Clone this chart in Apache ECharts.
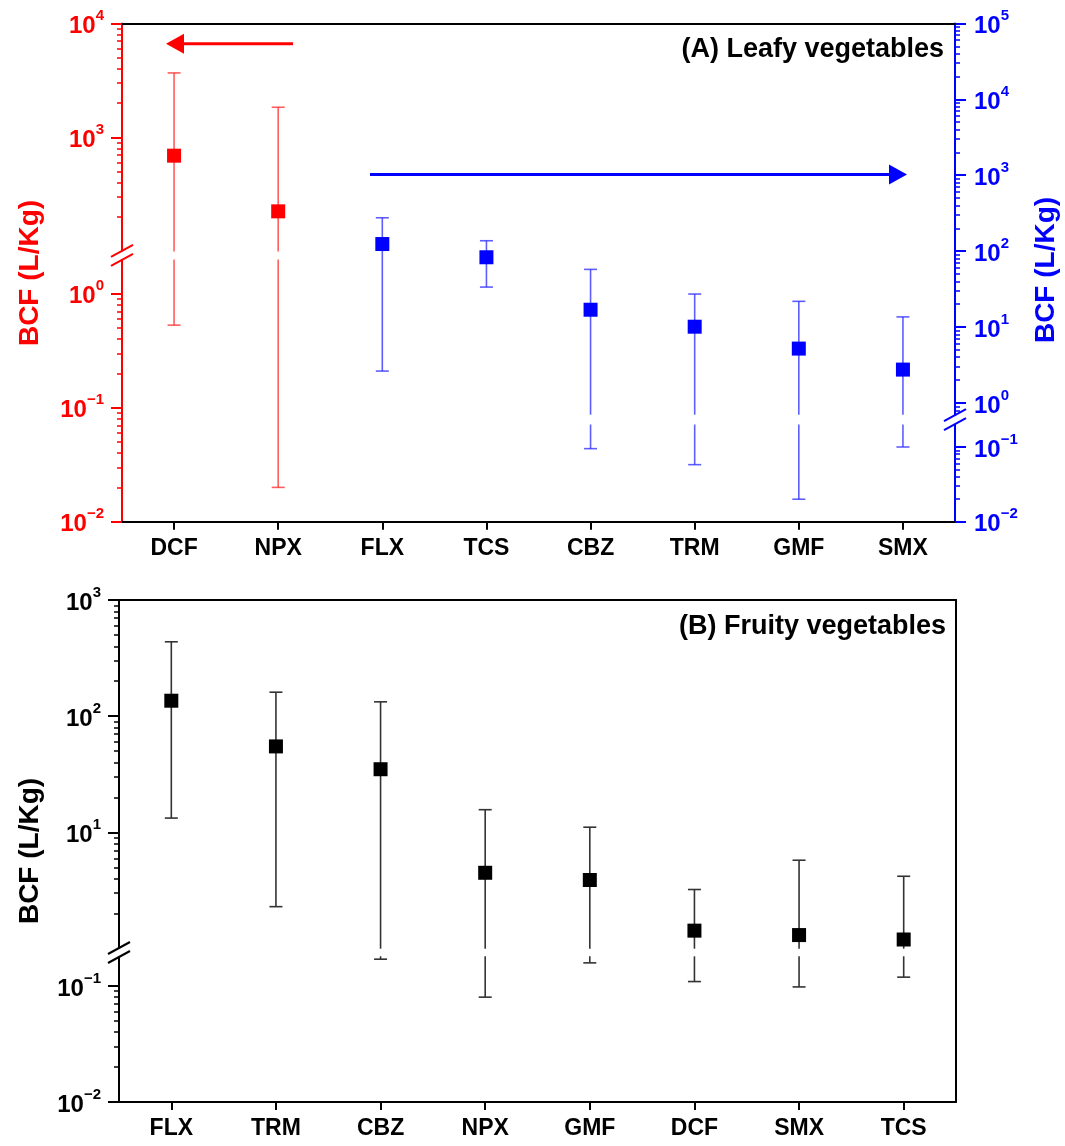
<!DOCTYPE html>
<html><head><meta charset="utf-8">
<script src="https://cdn.jsdelivr.net/npm/echarts@6/dist/echarts.min.js"></script>
<style>html,body{margin:0;padding:0;background:#fff}#c{width:1065px;height:1146px}</style>
</head><body><div id="c"></div>
<script>
// ---------- DATA ----------
const leafyCats = ['DCF','NPX','FLX','TCS','CBZ','TRM','GMF','SMX'];
const leafyAxis = ['left','left','right','right','right','right','right','right'];
const leafyMean = [692, 225, 124, 83, 16.9, 10.1, 5.2, 2.75];
const leafyLow  = [0.53, 0.02, 2.63, 33.6, 0.095, 0.058, 0.02, 0.1];
const leafyHigh = [3680, 1840, 275, 137, 57.5, 27.2, 21.8, 13.6];

const fruityCats = ['FLX','TRM','CBZ','NPX','GMF','DCF','SMX','TCS'];
const fruityMean = [136, 55, 35, 4.5, 3.9, 1.43, 1.31, 1.2];
const fruityLow  = [13.3, 2.3, 0.17, 0.08, 0.158, 0.109, 0.098, 0.119];
const fruityHigh = [437, 161, 133, 15.7, 11.1, 3.23, 5.77, 4.2];

// broken log axes: [upper segment], [lower segment]
const leftSegA  = [[100, 10000], [0.01, 2]];
const rightSegA = [[0.7, 100000], [0.01, 0.2]];
const segB      = [[1, 1000], [0.01, 0.18]];

const titleA = '(A) Leafy vegetables';
const titleB = '(B) Fruity vegetables';
const yName = 'BCF (L/Kg)';

// ---------- STYLE / LAYOUT ----------
const FONT = '"Liberation Sans", Arial, Helvetica, sans-serif';
const RED = '#ff0000', BLUE = '#0000ff', BLACK = '#000000';
const RED_E = 'rgba(255,40,40,0.75)', BLUE_E = 'rgba(40,40,255,0.75)', BLACK_E = '#333333';

const A = {left:122, width:833, top:23.4, bottom:521.7,
  LU:{top:23.4, bottom:251.5}, LL:{top:259.4, bottom:521.7},
  RU:{top:23.4, bottom:414.7}, RL:{top:424.5, bottom:521.7}};
const B = {left:119, width:837, top:600, bottom:1101.9,
  U:{top:600, bottom:948.7}, L:{top:956.3, bottom:1101.9}};

function grid(left, width, seg){
  return {left:left, width:width, top:seg.top, height:seg.bottom-seg.top, outerBoundsMode:'none', containLabel:false};
}

function ticksFor(min, max, breakAt){
  const major=[], minor=[];
  for (let e=-3; e<=6; e++){
    for (let k=1; k<10; k++){
      const v = +(k*Math.pow(10,e)).toPrecision(6);
      if (v < min*(1-1e-9) || v > max*(1+1e-9)) continue;
      if (breakAt==='min' && Math.abs(v-min)/min < 1e-6) continue;
      if (breakAt==='max' && Math.abs(v-max)/max < 1e-6) continue;
      (k===1 ? major : minor).push(v);
    }
  }
  return {major, minor};
}

function powLabel(v){
  const e = Math.round(Math.log10(v));
  return '{b|10}{s|' + (e<0 ? '\u2212'+(-e) : e) + '}';
}

function yPair(gridIndex, seg, breakAt, position, color, margin){
  const t = ticksFor(seg[0], seg[1], breakAt);
  return [{
    type:'log', logBase:10, gridIndex, min:seg[0], max:seg[1], position,
    axisLine:{show:true, onZero:false, lineStyle:{color, width:2}},
    axisTick:{show:true, inside:false, length:11, lineStyle:{color, width:2}, customValues:t.major},
    axisLabel:{show:true, customValues:t.major, margin, formatter:powLabel,
      rich:{
        b:{fontSize:24, fontWeight:'bold', fontFamily:FONT, color, lineHeight:30, verticalAlign:'bottom'},
        s:{fontSize:15, fontWeight:'bold', fontFamily:FONT, color, lineHeight:15, verticalAlign:'top'}
      }},
    splitLine:{show:false}, minorTick:{show:false}, minorSplitLine:{show:false}
  },{
    type:'log', logBase:10, gridIndex, min:seg[0], max:seg[1], position,
    axisLine:{show:false},
    axisTick:{show:true, inside:false, length:5, lineStyle:{color, width:1.5}, customValues:t.minor},
    axisLabel:{show:false}, splitLine:{show:false}
  }];
}

function xAxis(gridIndex, cats, mode){
  const base = {type:'category', gridIndex, data:cats, boundaryGap:true};
  if (mode==='hidden') return Object.assign(base, {show:false});
  if (mode==='top') return Object.assign(base, {position:'top',
    axisLine:{show:true, onZero:false, lineStyle:{color:BLACK, width:2}},
    axisTick:{show:false}, axisLabel:{show:false}, splitLine:{show:false}});
  return Object.assign(base, {position:'bottom',
    axisLine:{show:true, onZero:false, lineStyle:{color:BLACK, width:2}},
    axisTick:{show:true, inside:false, alignWithLabel:true, length:8, lineStyle:{color:BLACK, width:2}},
    axisLabel:{show:true, margin:15, fontSize:23, fontWeight:'bold', fontFamily:FONT, color:BLACK, interval:0},
    splitLine:{show:false}});
}

function errSeries(xi, yi, seg, color, items){
  return {
    type:'custom', xAxisIndex:xi, yAxisIndex:yi, z:2, silent:true,
    encode:{x:0, y:[1,2]},
    data: items.map(d => [d.i, d.lo, d.hi]),
    renderItem: function(params, api){
      const x = api.value(0), lo = api.value(1), hi = api.value(2);
      const a = Math.max(lo, seg[0]), b = Math.min(hi, seg[1]);
      if (a > b) return null;
      const p1 = api.coord([x, a]), p2 = api.coord([x, b]);
      const st = {stroke:color, lineWidth:1.6};
      const ch = [{type:'line', shape:{x1:p1[0], y1:p1[1], x2:p2[0], y2:p2[1]}, style:st}];
      const cw = 6.5;
      if (lo >= seg[0]) ch.push({type:'line', shape:{x1:p1[0]-cw, y1:p1[1], x2:p1[0]+cw, y2:p1[1]}, style:st});
      if (hi <= seg[1]) ch.push({type:'line', shape:{x1:p2[0]-cw, y1:p2[1], x2:p2[0]+cw, y2:p2[1]}, style:st});
      return {type:'group', children:ch};
    }
  };
}

function pointSeries(xi, yi, seg, color, items){
  return {
    type:'scatter', xAxisIndex:xi, yAxisIndex:yi, z:3, silent:true,
    symbol:'rect', symbolSize:14, itemStyle:{color, opacity:1},
    data: items.filter(d => d.m >= seg[0] && d.m <= seg[1]).map(d => [d.i, d.m])
  };
}

const leftItems = [], rightItems = [];
leafyCats.forEach((c,i) => {
  const d = {i, m:leafyMean[i], lo:leafyLow[i], hi:leafyHigh[i]};
  (leafyAxis[i]==='left' ? leftItems : rightItems).push(d);
});
const fruityItems = fruityCats.map((c,i) => ({i, m:fruityMean[i], lo:fruityLow[i], hi:fruityHigh[i]}));

// ---------- break marks & annotations ----------
function breakMark(cx, cy, color){
  const els = [{type:'rect', shape:{x:cx-8, y:cy-4, width:16, height:8}, style:{fill:'#fff'}, z:50}];
  [-4.5, 4.5].forEach(dy => {
    els.push({type:'line', shape:{x1:cx-11, y1:cy+dy+6, x2:cx+11, y2:cy+dy-6},
      style:{stroke:color, lineWidth:2}, z:51});
  });
  return els;
}
function arrow(x1, x2, y, color){
  const dir = x2 > x1 ? 1 : -1, hl = 18, hw = 10;
  return [
    {type:'line', shape:{x1:x1, y1:y, x2:x2 - dir*hl*0.6, y2:y}, style:{stroke:color, lineWidth:3}, z:40},
    {type:'polygon', shape:{points:[[x2,y],[x2-dir*hl,y-hw],[x2-dir*hl,y+hw]]}, style:{fill:color}, z:40}
  ];
}
function vText(x, y, text, color){
  return {type:'text', x, y, rotation:Math.PI/2, z:60,
    style:{text, fill:color, font:'bold 28px ' + FONT, align:'center', verticalAlign:'middle'}};
}
function hText(x, y, text){
  return {type:'text', x, y, z:60,
    style:{text, fill:BLACK, font:'bold 27px ' + FONT, align:'right', verticalAlign:'middle'}};
}

const graphics = [].concat(
  breakMark(A.left, (A.LU.bottom + A.LL.top)/2, RED),
  breakMark(A.left + A.width, (A.RU.bottom + A.RL.top)/2, BLUE),
  breakMark(B.left, (B.U.bottom + B.L.top)/2, BLACK),
  arrow(293, 166, 43.7, RED),
  arrow(370, 907, 174.6, BLUE),
  [vText(30, 273, yName, RED), vText(1046, 270, yName, BLUE), vText(30, 851, yName, BLACK),
   hText(944, 50, titleA), hText(946, 627, titleB)]
);

const option = {
  animation:false,
  backgroundColor:'#fff',
  grid:[
    grid(A.left, A.width, A.LU), grid(A.left, A.width, A.LL),
    grid(A.left, A.width, A.RU), grid(A.left, A.width, A.RL),
    grid(B.left, B.width, B.U),  grid(B.left, B.width, B.L),
    grid(B.left, B.width, {top:B.top, bottom:B.bottom})
  ],
  xAxis:[
    xAxis(0, leafyCats, 'top'), xAxis(1, leafyCats, 'bottom'),
    xAxis(2, leafyCats, 'hidden'), xAxis(3, leafyCats, 'hidden'),
    xAxis(4, fruityCats, 'top'), xAxis(5, fruityCats, 'bottom'),
    xAxis(6, fruityCats, 'hidden')
  ],
  yAxis:[].concat(
    yPair(0, leftSegA[0], 'min', 'left', RED, 18),
    yPair(1, leftSegA[1], 'max', 'left', RED, 18),
    yPair(2, rightSegA[0], 'min', 'right', BLUE, 19),
    yPair(3, rightSegA[1], 'max', 'right', BLUE, 19),
    yPair(4, segB[0], 'min', 'left', BLACK, 18),
    yPair(5, segB[1], 'max', 'left', BLACK, 18),
    [{type:'value', gridIndex:6, min:0, max:1, position:'right',
      axisLine:{show:true, lineStyle:{color:BLACK, width:2}}, axisTick:{show:false},
      axisLabel:{show:false}, splitLine:{show:false}}]
  ),
  series:[
    errSeries(0, 0, leftSegA[0], RED_E, leftItems),
    errSeries(1, 2, leftSegA[1], RED_E, leftItems),
    errSeries(2, 4, rightSegA[0], BLUE_E, rightItems),
    errSeries(3, 6, rightSegA[1], BLUE_E, rightItems),
    errSeries(4, 8, segB[0], BLACK_E, fruityItems),
    errSeries(5, 10, segB[1], BLACK_E, fruityItems),
    pointSeries(0, 0, leftSegA[0], RED, leftItems),
    pointSeries(1, 2, leftSegA[1], RED, leftItems),
    pointSeries(2, 4, rightSegA[0], BLUE, rightItems),
    pointSeries(3, 6, rightSegA[1], BLUE, rightItems),
    pointSeries(4, 8, segB[0], BLACK, fruityItems),
    pointSeries(5, 10, segB[1], BLACK, fruityItems)
  ],
  graphic: graphics
};

const chart = echarts.init(document.getElementById('c'), null, {renderer:'canvas'});
chart.setOption(option);
</script>
</body></html>
